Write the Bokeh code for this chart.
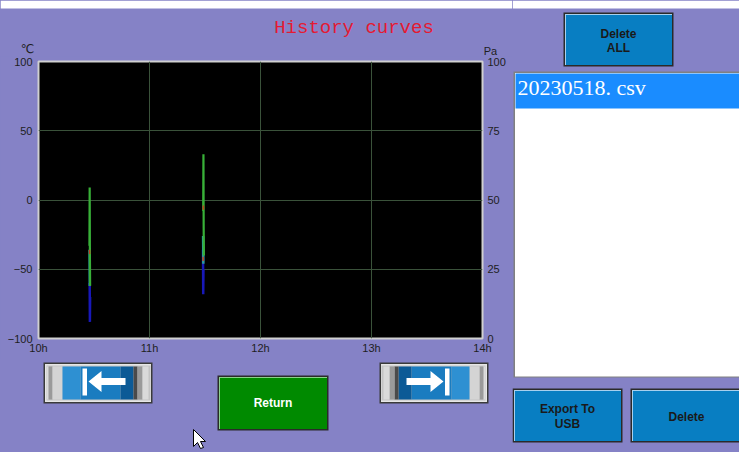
from bokeh.plotting import figure
from bokeh.models import Range1d, LinearAxis, FixedTicker
from bokeh.layouts import row, column
from bokeh.core.properties import value
from bokeh.embed import file_html
from bokeh.resources import INLINE

nan = float("nan")

# ---------------- data ----------------
x_ticks = [10, 11, 12, 13, 14]
x_tick_labels = ["10h", "11h", "12h", "13h", "14h"]
temp_ticks = [-100, -50, 0, 50, 100]
pa_ticks = [0, 25, 50, 75, 100]

time_blue = [10.461, 10.463, 10.465, nan, 11.482, 11.484, 11.486]
val_blue = [-60, -88, -70, nan, -36, -68, -50]

time_cyan = [10.460, 10.462, nan, 11.483, 11.485]
val_cyan = [-36, -62, nan, -26, -46]

time_green = [10.459, 10.461, 10.463, 10.465, nan, 11.484, 11.486, 11.488, 11.490]
val_green = [-33, 9, -38, -62, nan, -8, 33, -20, -40]

time_red = [10.460, 10.461, nan, 11.485, 11.486, nan, 11.483, 11.484]
val_red = [-36, -39, nan, -4, -7, nan, -41, -44]

file_names = ["20230518. csv"]
title_text = "History curves"

# ---------------- style ----------------
PURPLE = "#8582C6"
BTN_BLUE = "#087EC2"
BTN_GREEN = "#008A00"
AXIS_TXT = "#1E1E1E"
BG_STYLE = {"background-color": PURPLE}


def deco_fig(x0, y0, w, h):
    f = figure(width=w, height=h, x_range=Range1d(x0, x0 + w), y_range=Range1d(y0 + h, y0),
               output_backend="svg", toolbar_location=None,
               x_axis_location=None, y_axis_location=None,
               min_border=0, min_border_left=0, min_border_right=0,
               min_border_top=0, min_border_bottom=0, frame_align=False,
               background_fill_color=PURPLE, border_fill_color=PURPLE,
               outline_line_color=None, styles=BG_STYLE)
    f.xgrid.visible = False
    f.ygrid.visible = False
    return f


def box(f, x0, y0, x1, y1, fill, line=None, lw=1):
    f.quad(left=[x0], right=[x1], top=[y0], bottom=[y1], fill_color=fill,
           line_color=line, line_width=lw)


def poly(f, pts, fill, line=None, lw=1):
    f.patch([a for a, b in pts], [b for a, b in pts], fill_color=fill,
            line_color=line, line_width=lw)


def text(f, X, Y, s, size="12px", color="#1A1A1A", font="Liberation Sans",
         style="normal", align="center"):
    f.text(x=[X], y=[Y], text=[s], text_font=value(font), text_font_size=size,
           text_color=color, text_font_style=style, text_align=align,
           text_baseline="middle")


def button(f, x0, y0, x1, y1, fill, hi):
    box(f, x0, y0, x1, y1, "#2A2A2A")
    box(f, x0 + 1.5, y0 + 1.5, x1 - 1.5, y1 - 1.5, hi)
    box(f, x0 + 2.5, y0 + 2.5, x1 - 1.5, y1 - 1.5, fill)


def arrow_button(f, x0, mirror):
    def X(a):
        return (x0 + a) if not mirror else (x0 + 109 - a)

    def bx(a0, a1, y0, y1, c):
        l, r = sorted((X(a0), X(a1)))
        box(f, l, y0, r, y1, c)
    bx(0, 109, 362, 403, "#3A3A3A")
    bx(1.5, 107.5, 363.5, 401.5, "#E6E6E6")
    bx(3, 107, 365, 400, "#C4C4C4")
    bx(4, 5, 366, 399, "#F2F2F2")
    bx(5, 9, 366, 399, "#9A9A9A")
    bx(9, 19, 366, 399, "#D4D4D4")
    bx(19, 37, 366, 399, "#2E90D2")
    bx(37, 77, 366, 399, "#1A7CC0")
    bx(77, 90, 366, 399, "#0C5A96")
    bx(90, 94, 366, 399, "#4A4A4A")
    bx(94, 99, 366, 399, "#9A9A9A")
    bx(99, 105, 366, 399, "#DADADA")
    bx(39, 43.5, 368, 395, "white")
    pts = [(45, 381), (58, 370.5), (58, 377.5), (82, 377.5), (82, 384.5), (58, 384.5), (58, 391.5)]
    poly(f, [(X(a), b) for a, b in pts], "white")


# ---------------- top strip (title, units) ----------------
top = deco_fig(0, 0, 512, 56)
box(top, 0, 0, 512, 8, "white")
text(top, 353.5, 27, title_text, size="19px", color="#E41A32", font="Liberation Mono")
text(top, 27, 48, "\u2103", size="12px", color=AXIS_TXT, font="DejaVu Sans")
text(top, 490, 50, "Pa", size="11px", color=AXIS_TXT)

# ---------------- chart ----------------
p = figure(width=512, height=302, x_range=Range1d(10, 14), y_range=Range1d(-100, 100),
           output_backend="svg", toolbar_location=None, frame_align=False,
           min_border_left=38, min_border_right=30, min_border_top=5, min_border_bottom=20,
           background_fill_color="black", border_fill_color=PURPLE,
           outline_line_color="#D0D0D0", outline_line_width=2, styles=BG_STYLE)
p.extra_y_ranges = {"pa": Range1d(0, 100)}

for ax in (p.xaxis[0], p.yaxis[0]):
    ax.axis_line_color = None
    ax.major_tick_line_color = None
    ax.minor_tick_line_color = None
    ax.major_tick_out = 0
    ax.major_tick_in = 0
    ax.axis_label_standoff = 0
    ax.major_label_text_font = "Liberation Sans"
    ax.major_label_text_font_size = "11px"
    ax.major_label_text_color = AXIS_TXT

p.xaxis[0].ticker = FixedTicker(ticks=x_ticks)
p.xaxis[0].major_label_overrides = {t: l for t, l in zip(x_ticks, x_tick_labels)}
p.xaxis[0].major_label_standoff = 3
p.yaxis[0].ticker = FixedTicker(ticks=temp_ticks)
p.yaxis[0].major_label_standoff = 6

ra = LinearAxis(y_range_name="pa", ticker=FixedTicker(ticks=pa_ticks),
                axis_line_color=None, major_tick_line_color=None, minor_tick_line_color=None,
                major_tick_out=0, major_tick_in=0, major_label_standoff=5,
                axis_label_standoff=0,
                major_label_text_font="Liberation Sans", major_label_text_font_size="11px",
                major_label_text_color=AXIS_TXT)
p.add_layout(ra, "right")

p.xgrid.ticker = FixedTicker(ticks=x_ticks)
p.ygrid.ticker = FixedTicker(ticks=temp_ticks)
p.xgrid.grid_line_color = "#3A523A"
p.ygrid.grid_line_color = "#3A523A"

p.line(time_blue, val_blue, line_color="#1818B8", line_width=2.5)
p.line(time_cyan, val_cyan, line_color="#2A9C9C", line_width=2.5)
p.line(time_green, val_green, line_color="#38B038", line_width=2.2)
p.line(time_red, val_red, line_color="#C04020", line_width=1.5)

# ---------------- bottom strip (navigation buttons) ----------------
bot = deco_fig(0, 358, 512, 94)
arrow_button(bot, 43, False)
arrow_button(bot, 379, True)
button(bot, 217, 375, 328, 430, BTN_GREEN, "#8CD08C")
text(bot, 272.5, 402, "Return", size="12px", style="bold", color="white")
poly(bot, [(193, 429), (193, 446), (197, 442), (200, 448), (203, 447), (200, 441), (205, 441)],
     "white", line="black", lw=1)

# ---------------- right panel (file list & buttons) ----------------
rp = deco_fig(512, 0, 227, 452)
box(rp, 512, 0, 739, 8, "white")
button(rp, 563, 12, 673, 66, BTN_BLUE, "#A8D0EE")
text(rp, 618, 33, "Delete", size="12px", style="bold")
text(rp, 618, 47, "ALL", size="12px", style="bold")

box(rp, 513, 71, 740, 377, "#808080")
box(rp, 514.5, 72.5, 740, 376, "white")
box(rp, 515, 73, 740, 108, "#1A8CFF")
text(rp, 517, 87, file_names[0], size="22px", color="white", font="Liberation Serif",
     align="left")

button(rp, 512, 388, 622, 442, BTN_BLUE, "#A8D0EE")
text(rp, 567, 408, "Export To", size="12px", style="bold")
text(rp, 567, 423, "USB", size="12px", style="bold")
button(rp, 630, 388, 741, 442, BTN_BLUE, "#A8D0EE")
text(rp, 686, 416, "Delete", size="12px", style="bold")

left_col = column(top, p, bot, spacing=0, styles=BG_STYLE)
layout = row(left_col, rp, spacing=0, styles=BG_STYLE)

html = file_html(layout, INLINE)
html = html.replace("</head>", "<style>html, body { background-color: %s; }</style>\n</head>" % PURPLE, 1)
open("out.html", "w").write(html)
